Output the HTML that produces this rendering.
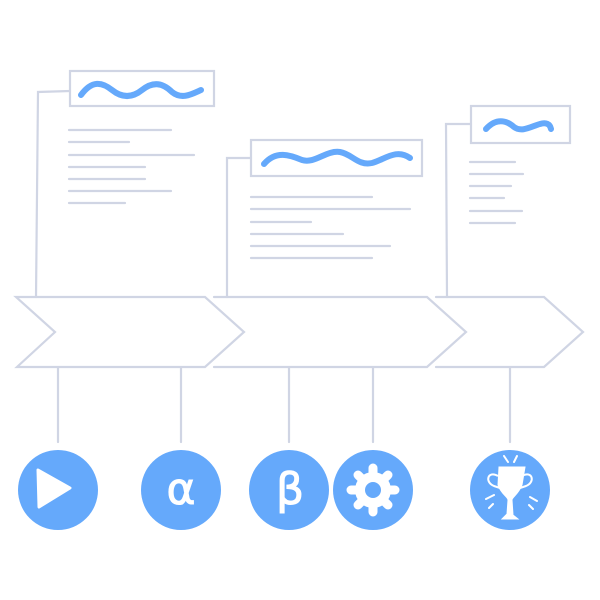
<!DOCTYPE html>
<html><head><style>html,body{margin:0;padding:0;background:#fff}svg{display:block}</style></head><body>
<svg width="600" height="600" viewBox="0 0 600 600" xmlns="http://www.w3.org/2000/svg">
<g fill="none" stroke="#d0d5e4" stroke-width="2.2" stroke-linecap="round">
<!-- doc1 -->
<path d="M36 297 L38 92 L70 91"/>
<rect x="70" y="71" width="144" height="35"/>
<path d="M69 130H171M69 142H129M69 155H194M69 167H145M69 179H145M69 191H171M69 203H125"/>
<!-- doc2 -->
<path d="M227 297 L227 158 L251 158"/>
<rect x="251" y="140" width="171" height="36"/>
<path d="M251 197H372M251 209H410M251 222H311M251 234H343M251 246H390M251 258H372"/>
<!-- doc3 -->
<path d="M447 297 L446 124 L471 124"/>
<rect x="471" y="106" width="99" height="37"/>
<path d="M470 162H515M470 174H523M470 186H511M470 198H504M470 211H522M470 223H515"/>
<!-- chevrons -->
<path d="M16 297 L205 297 L244 332 L205 367 L17 367 L55 332 Z"/>
<path d="M214 297 L427 297 L466 332 L427 367 L214 367"/>
<path d="M436 297 L544 297 L583 332 L544 367 L436 367"/>
<!-- connectors -->
<path d="M58 368V442M181 368V442M289 368V442M373 368V442M510 368V442"/>
</g>
<g fill="none" stroke="#65a9fb" stroke-width="6" stroke-linecap="round">
<path d="M81 95 C92 80 102 82 112 90 C122 98 132 98 142 90 C152 82 162 82 172 92 C182 100 192 94 201 90"/>
<path d="M264 164 C276 150 290 155 302 160 C315 164 326 150 340 152 C352 154 358 166 372 163 C384 160 396 148 410 158"/>
<path d="M486 129 C496 118 506 120 514 127 C522 133 532 126 540 124 C546 122 550 124 551 129"/>
</g>
<g fill="#65a9fb">
<ellipse cx="58" cy="490" rx="40" ry="40"/>
<ellipse cx="181" cy="490" rx="40" ry="40"/>
<ellipse cx="289" cy="490" rx="40" ry="40"/>
<ellipse cx="373" cy="490" rx="40" ry="40"/>
<ellipse cx="510" cy="490" rx="40" ry="40"/>
</g>
<path d="M38 470 L70 488 L39 507 Z" fill="#fff" stroke="#fff" stroke-width="3" stroke-linejoin="round"/>
<text x="181" y="504" font-family="DejaVu Sans, sans-serif" font-size="44" fill="#fff" stroke="#fff" stroke-width="1" text-anchor="middle">α</text>
<text x="290" y="504" font-family="DejaVu Sans, sans-serif" font-size="44" fill="#fff" stroke="#fff" stroke-width="1" text-anchor="middle">β</text>
<g fill="#fff">
<circle cx="373" cy="490" r="18"/>
<g stroke="#fff" stroke-width="9" stroke-linecap="round">
<path d="M373 468V512M351 490H395M358 475L388 505M388 475L358 505"/>
</g>
</g>
<circle cx="373" cy="490" r="8" fill="#65a9fb"/>
<g fill="#fff" stroke="#fff">
<path d="M499 467 L525 467 L522 485 C518 495 512 497 512 500 L513 515 L518 519 L502 519 L507 514 L508 500 C508 497 501 494 498 485 Z"/>
<path d="M498 476 C488 470 484 482 494 486 L500 488" fill="none" stroke-width="2"/>
<path d="M522 476 C532 470 536 482 526 486 L520 488" fill="none" stroke-width="2"/>
<path d="M504 456L508 462M517 456L514 462M486 499L494 495M489 508L493 504M530 497L537 501M529 505L533 509" stroke-width="2" stroke-linecap="round"/>
</g>
</svg>
</body></html>
